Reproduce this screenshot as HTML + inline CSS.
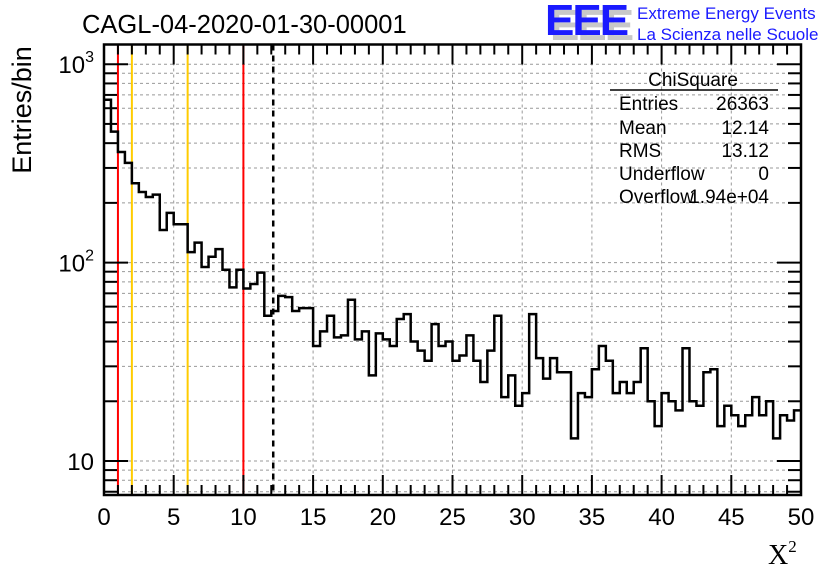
<!DOCTYPE html>
<html><head><meta charset="utf-8"><style>
html,body{margin:0;padding:0;background:#fff;}
svg{display:block;font-family:"Liberation Sans",sans-serif;}
</style></head><body>
<svg id="chart" width="836" height="572" viewBox="0 0 836 572">
<rect width="836" height="572" fill="#fff"/>
<g id="grid"></g>
<g id="marks"></g>
<g id="axes"></g>
<text x="82" y="33" font-size="25.5">CAGL-04-2020-01-30-00001</text>
<g>
<text x="550" y="40" font-size="44" font-weight="bold" fill="#c8c8c8" letter-spacing="-2">EEE</text>
<text x="545" y="35" font-size="44" font-weight="bold" fill="#1a1aff" letter-spacing="-2">EEE</text>
<text x="637" y="19" font-size="17" fill="#1a1aff">Extreme Energy Events</text>
<text x="637" y="40" font-size="17" fill="#1a1aff">La Scienza nelle Scuole</text>
</g>
<g font-size="19">
<text x="693" y="86" text-anchor="middle">ChiSquare</text>
<line x1="610" y1="90" x2="778" y2="90" stroke="#000" stroke-width="1.5"/>
<text x="619" y="110">Entries</text><text x="769" y="110" text-anchor="end">26363</text>
<text x="619" y="134">Mean</text><text x="769" y="134" text-anchor="end">12.14</text>
<text x="619" y="157">RMS</text><text x="769" y="157" text-anchor="end">13.12</text>
<text x="619" y="180">Underflow</text><text x="769" y="180" text-anchor="end">0</text>
<text x="619" y="203">Overflow</text><text x="769" y="203" text-anchor="end">1.94e+04</text>
</g>
<text transform="translate(31,110) rotate(-90)" font-size="27" text-anchor="middle">Entries/bin</text>
<text x="768" y="564" font-size="28" font-family="Liberation Serif,serif">X<tspan font-size="17" dy="-12">2</tspan></text>
</svg>
<script>
const counts=[662,457,361,318,251,227,214,220,146,178,156,156,113,126,95,107,117,92,75,92,74,78,89,54,57,68,67,57,59,59,38,45,54,42,43,65,41,45,27,44,41,38,52,55,40,36,32,49,38,40,32,34,43,32,25,36,54,21,27,19,22,55,33,26,33,28,28,13,22,21,29,38,32,22,25,22,25,37,20,15,22,20,18,37,20,19,28,29,15,19,17,15,17,21,17,20,13,17,16,18];
const binWidth=[0.5];
const xTicks=[0,5,10,15,20,25,30,35,40,45,50];
const yTickLabels=["10","10²","10³"];
const cutLinesRed=[1,10];
const cutLinesYellow=[2,6];
const meanValue=[12.14];

const X0=104,X1=801,Y0=44.5,Y1=495;
const xMin=0,xMax=50;
const yDecade=198.4, yTen=461;
function sx(v){return X0+(v-xMin)/(xMax-xMin)*(X1-X0);}
function sy(v){return yTen-(Math.log10(v)-1)*yDecade;}
const NS="http://www.w3.org/2000/svg";
function mk(parent,tag,attrs){const e=document.createElementNS(NS,tag);for(const k in attrs)e.setAttribute(k,attrs[k]);parent.appendChild(e);return e;}
const grid=document.getElementById('grid'),marks=document.getElementById('marks'),axes=document.getElementById('axes');
const dash="3,3";
xTicks.forEach(t=>{if(t>xMin&&t<xMax){const l=mk(grid,'line',{x1:sx(t),x2:sx(t),y1:Y0,y2:Y1,stroke:'#999','stroke-dasharray':dash,'stroke-width':1});

}});
for(let d=1;d<=1000;d*=10){for(let m=1;m<10;m++){const v=d*m;const y=sy(v);if(y<Y0||y>Y1)continue;
const l=mk(grid,'line',{x1:X0,x2:X1,y1:y,y2:y,stroke:'#999','stroke-dasharray':dash,'stroke-width':1});


const big=(m===1);
const tl=mk(axes,'line',{x1:X0,x2:X0+(big?24:13),y1:y,y2:y,stroke:'#000','stroke-width':2});


const tr=mk(axes,'line',{x1:X1,x2:X1-(big?24:13),y1:y,y2:y,stroke:'#000','stroke-width':2});

}}
yTickLabels.forEach((s,i)=>{const y=sy(Math.pow(10,i+1));const t=mk(axes,'text',{x:X0-10,y:y+9,'font-size':24,'text-anchor':'end'});


if(i===0)t.textContent=s;else{t.textContent='10';const sp=mk(t,'tspan',{dy:-11,'font-size':16});sp.textContent=String(i+1);}});
for(let v=xMin;v<=xMax;v+=1){const big=(v%5===0);const x=sx(v);
const a=mk(axes,'line',{x1:x,x2:x,y1:Y1,y2:Y1-(big?20:10),stroke:'#000','stroke-width':2});


const b=mk(axes,'line',{x1:x,x2:x,y1:Y0,y2:Y0+(big?20:10),stroke:'#000','stroke-width':2});

}
xTicks.forEach(t=>{const e=mk(axes,'text',{x:sx(t),y:525,'font-size':24,'text-anchor':'middle'});


e.textContent=String(t);});
let d='';const w=binWidth[0];
counts.forEach((c,i)=>{const xa=sx(i*w),xb=sx((i+1)*w),y=Math.min(Math.max(sy(c),Y0),Y1);
d+=(i===0?'M'+xa+','+y:'L'+xa+','+y)+'L'+xb+','+y;});
cutLinesRed.forEach(v=>{const l=mk(marks,'line',{x1:sx(v),x2:sx(v),y1:Y0,y2:Y1,stroke:'#ff0000','stroke-width':2});

});
cutLinesYellow.forEach(v=>{const l=mk(marks,'line',{x1:sx(v),x2:sx(v),y1:Y0,y2:Y1,stroke:'#ffcc00','stroke-width':2});

});
const h=mk(marks,'path',{d:d,fill:'none',stroke:'#000','stroke-width':2.5});


const ml=mk(marks,'line',{x1:sx(meanValue[0]),x2:sx(meanValue[0]),y1:Y0,y2:Y1,stroke:'#000','stroke-width':2.5,'stroke-dasharray':'6,5'});


const f=mk(axes,'rect',{x:X0,y:Y0,width:X1-X0,height:Y1-Y0,fill:'none',stroke:'#000','stroke-width':2.5});


</script>
</body></html>
